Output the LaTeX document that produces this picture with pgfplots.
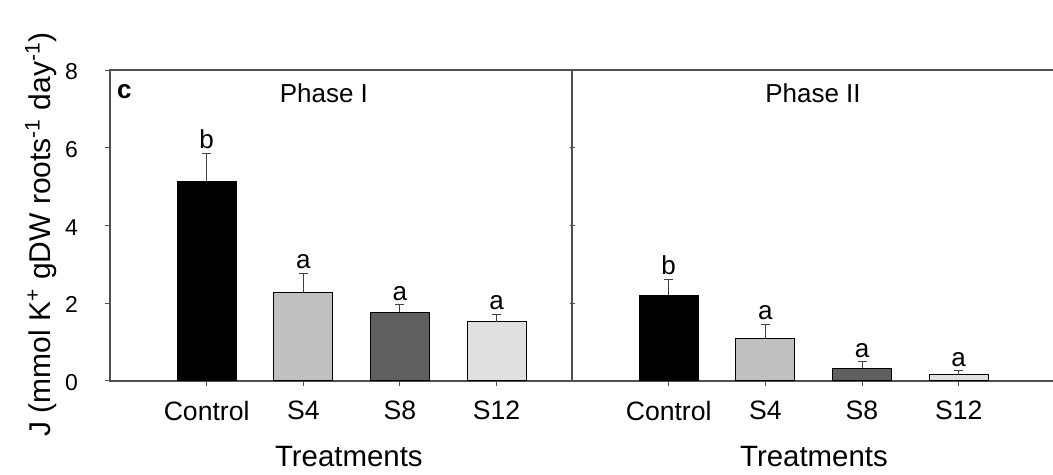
\documentclass[border=0pt]{standalone}
\usepackage{fontspec}
\setmainfont{Liberation Sans}
\usepackage{pgfplots}
\pgfplotsset{compat=1.18}
\definecolor{cS4}{HTML}{C0C0C0}
\definecolor{cS8}{HTML}{606060}
\definecolor{cS12}{HTML}{E0E0E0}
\definecolor{spine}{HTML}{505050}

\pgfplotsset{
  panel/.style={
    scale only axis, height=155.5pt,
    ymin=0, ymax=8, ytick={0,2,4,6,8},
    xmin=0, xtick={1,2,3,4}, xticklabels={Control,S4,S8,S12},
    xtick pos=left, ytick pos=left,
    tick align=outside, major tick length=2.5pt,
    tick style={spine, line width=0.5pt},
    axis line style={spine, line width=0.6pt},
    /pgf/number format/assume math mode=true,
    x tick label style={font=\fontsize{13.3}{15}\selectfont, yshift=-4pt},
    yticklabel={\pgfmathprintnumber{\tick}\hspace*{10pt}},
    y tick label style={font=\fontsize{11.5}{13}\selectfont, yshift=-0.8pt},
    xlabel={Treatments},
    clip=false,
  },
  bar/.style={ybar, bar width=0.61, bar shift=0pt, draw=black, line width=0.5pt, fill=#1,
    error bars/.cd, y dir=plus, y explicit,
    error bar style={black!75, line width=0.5pt},
    error mark options={rotate=90, mark size=2.25pt, black!75, line width=0.5pt}},
  letters/.style={draw=none, mark=none, nodes near coords, point meta=explicit symbolic,
    nodes near coords style={font=\fontsize{13}{15}\selectfont, text=black, anchor=south, inner sep=2pt}},
}

\begin{document}
\begin{tikzpicture}
% ---------------- Phase I ----------------
\begin{axis}[panel, at={(0,0)}, anchor=south west, width=231pt, xmax=4.78,
  xlabel style={at={(axis description cs:0.517,0)}, anchor=center, yshift=-38pt, font=\fontsize{14.7}{17}\selectfont},
  ylabel={J (mmol K\textsuperscript{+} gDW roots\textsuperscript{-1} day\textsuperscript{-1})},
  ylabel style={at={(axis description cs:-0.15,0.472)}, anchor=center, font=\fontsize{15}{18}\selectfont},
]
\addplot[bar=black] coordinates {(1,5.13) +- (0,0.72)};
\addplot[bar=cS4]   coordinates {(2,2.28) +- (0,0.49)};
\addplot[bar=cS8]   coordinates {(3,1.77) +- (0,0.19)};
\addplot[bar=cS12]  coordinates {(4,1.53) +- (0,0.18)};
\addplot[letters] coordinates {(1,5.85)[b] (2,2.77)[a] (3,1.96)[a] (4,1.71)[a]};
\node[font=\fontsize{13}{15}\selectfont] at (axis description cs:0.463,0.926) {Phase I};
\node[font=\bfseries\fontsize{13}{15}\selectfont] at (axis description cs:0.031,0.93) {c};
\end{axis}
% ---------------- Phase II ----------------
\begin{axis}[panel, at={(231pt,0)}, anchor=south west, width=240.5pt, xmax=4.976,
  axis x line=box, axis y line=left, axis line style={-},
  yticklabels={},
  xlabel style={at={(axis description cs:0.503,0)}, anchor=center, yshift=-38pt, font=\fontsize{14.7}{17}\selectfont},
]
\addplot[bar=black] coordinates {(1,2.21) +- (0,0.40)};
\addplot[bar=cS4]   coordinates {(2,1.09) +- (0,0.37)};
\addplot[bar=cS8]   coordinates {(3,0.33) +- (0,0.16)};
\addplot[bar=cS12]  coordinates {(4,0.16) +- (0,0.10)};
\addplot[letters] coordinates {(1,2.61)[b] (2,1.46)[a] (3,0.49)[a] (4,0.26)[a]};
\node[font=\fontsize{13}{15}\selectfont] at (axis description cs:0.501,0.926) {Phase II};
\end{axis}
\pgfresetboundingbox
\path (-55pt,-47pt) rectangle (471.5pt,190.5pt);
\end{tikzpicture}
\end{document}
